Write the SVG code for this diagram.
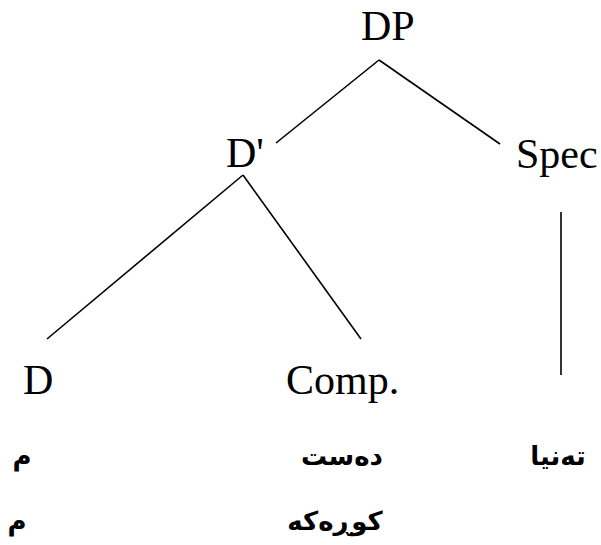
<svg xmlns="http://www.w3.org/2000/svg" width="601" height="545" viewBox="0 0 601 545">
<style>
.lat{font-family:"Liberation Serif","Times New Roman",serif;font-size:42px;fill:#000}
.ar{font-family:"DejaVu Sans",sans-serif;font-size:26px;font-weight:bold;fill:#000;text-anchor:middle}
.edge{stroke:#000;stroke-width:1.6;fill:none}
</style>
<rect width="601" height="545" fill="#fff"/>
<g id="connectors">
<line class="edge" x1="379" y1="60" x2="276" y2="143"/>
<line class="edge" x1="379" y1="60" x2="500" y2="144"/>
<line class="edge" x1="243" y1="175" x2="47" y2="339"/>
<line class="edge" x1="243" y1="175" x2="361" y2="339"/>
<line class="edge" x1="561" y1="212" x2="561" y2="375"/>
</g>
<g id="DP"><text class="lat" x="361" y="40">DP</text></g>
<g id="Dbar"><text class="lat" x="226" y="167">D'</text></g>
<g id="Spec"><text class="lat" x="516" y="168">Spec</text></g>
<g id="D"><text class="lat" x="23" y="394">D</text></g>
<g id="Comp"><text class="lat" x="286" y="394">Comp.</text></g>
<g id="words">
<text class="ar" x="22" y="465">م</text>
<text class="ar" x="342" y="465">دەست</text>
<text class="ar" x="558" y="465">تەنیا</text>
<text class="ar" x="17" y="530">م</text>
<text class="ar" x="335" y="530">کوڕەکە</text>
</g>
</svg>
